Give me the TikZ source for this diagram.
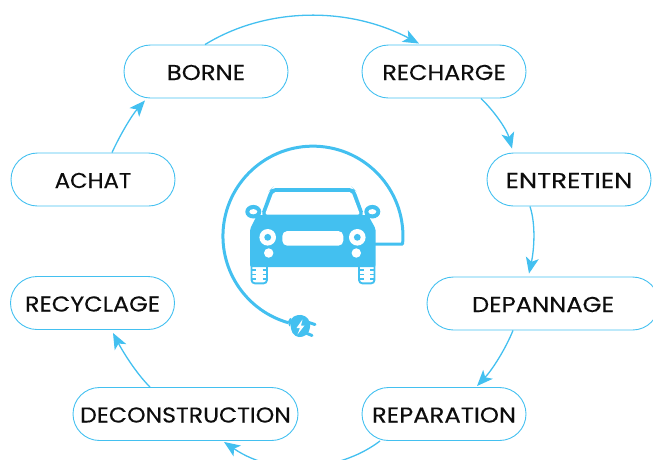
\documentclass[tikz,border=0pt]{standalone}
\usepackage{fontspec}
\setmainfont{Poppins}[FakeStretch=1.13,FakeBold=0.25]
\usetikzlibrary{arrows.meta}
\definecolor{ev}{HTML}{43C0F0}
\tikzset{
  pill/.style={draw=ev,line width=0.9pt,rounded corners=26.5pt,minimum height=53pt,inner sep=0pt,text height=17pt,text depth=0pt,font=\fontsize{21.5}{24}\selectfont,text=black!95},
  link/.style={draw=ev,line width=1.3pt,-{Stealth[length=16pt,width=13pt,inset=4pt]}},
  cable/.style={draw=ev,line width=3pt},
}
\begin{document}
\begin{tikzpicture}[x=1pt,y=-1pt]
\useasboundingbox (0,0) rectangle (653,459);
\node[pill,minimum width=164pt] (borne) at (206,71.5) {BORNE};
\node[pill,minimum width=164pt] (recharge) at (444,71.5) {\scalebox{0.985}[1]{RECHARGE}};
\node[pill,minimum width=164pt] (entretien) at (569,179.5) {\scalebox{1.07}[1]{ENTRETIEN}};
\node[pill,minimum width=232pt] (depannage) at (543,303.5) {DEPANNAGE};
\node[pill,minimum width=164pt] (reparation) at (444,414) {REPARATION};
\node[pill,minimum width=225pt] (deconstruction) at (185.5,414) {\scalebox{0.97}[1]{DECONSTRUCTION}};
\node[pill,minimum width=164pt] (recyclage) at (92.5,303) {\scalebox{0.985}[1]{RECYCLAGE}};
\node[pill,minimum width=164pt] (achat) at (93,179.5) {\scalebox{0.94}[1]{ACHAT}};
% connectors
\draw[link] ([xshift=-1pt]borne.north) .. controls (266,7) and (348,6) .. ([xshift=-25pt,yshift=1pt]recharge.north);
\draw[link] ([xshift=37pt]recharge.south) .. controls (495,112) and (507,130) .. ([xshift=-57pt,yshift=4pt]entretien.north);
\draw[link] ([xshift=-39pt]entretien.south) .. controls (536,225) and (534,250) .. ([xshift=-14pt,yshift=3pt]depannage.north);
\draw[link] ([xshift=-30pt]depannage.south) .. controls (505,350) and (492,370) .. ([xshift=33pt,yshift=1pt]reparation.north);
\draw[link] ([xshift=-64pt]reparation.south) .. controls (345,468) and (280,480) .. ([xshift=38.5pt,yshift=-1pt]deconstruction.south);
\draw[link] ([xshift=-35.5pt]deconstruction.north) .. controls (135,372) and (122,350) .. ([xshift=20.5pt,yshift=-3pt]recyclage.south);
\draw[link] ([xshift=19pt]achat.north) .. controls (120,135) and (132,115) .. ([xshift=-61pt,yshift=-2pt]borne.south);
% cable
\draw[cable,line join=round] (375,244) -- (402.6,244) arc[start angle=-5,end angle=254.4,radius=90pt];
% windscreen frame
\fill[ev,rounded corners=5pt] (260.5,216) -- (270,190) -- (272,188) -- (353,188) -- (355,190) -- (364.5,216) -- cycle;
\fill[white,rounded corners=2pt] (265,214.5) -- (273.5,192) -- (351.5,192) -- (360,214.5) -- cycle;
% mirrors
\fill[ev] (253.3,211.7) ellipse [x radius=8pt,y radius=6.8pt];
\fill[ev] (372.3,211.7) ellipse [x radius=8pt,y radius=6.8pt];
\fill[white] (253.3,211.7) ellipse [x radius=4pt,y radius=2.6pt];
\fill[white] (372.3,211.7) ellipse [x radius=4pt,y radius=2.6pt];
% body
\fill[ev,rounded corners=2pt] (257,215) -- (368,215) -- (375.7,229) -- (375.7,267) -- (250,267) -- (250,229) -- cycle;
\fill[white] (267.7,237.3) circle[radius=8.3pt];
\fill[white] (357.3,237.3) circle[radius=8.3pt];
\fill[ev] (267.7,237.3) circle[radius=3.4pt];
\fill[ev] (357.3,237.3) circle[radius=3.4pt];
\fill[white] (268.7,253) circle[radius=4.7pt];
\fill[white] (356.3,253) circle[radius=4.7pt];
\fill[white,rounded corners=5pt] (282.3,231) rectangle (343.3,245.7);
% wheels
\foreach \wx in {251.5,359}{
  \draw[ev,line width=1.9pt,rounded corners=3.5pt] (\wx,266) -- (\wx,283.4) -- (\wx+15.5,283.4) -- (\wx+15.5,266);
  \foreach \wy in {270,274.5,279}{
    \draw[ev,line width=1.4pt] (\wx,\wy) -- (\wx+4.5,\wy);
    \draw[ev,line width=1.4pt] (\wx+11,\wy) -- (\wx+15.5,\wy);
  }
}
% plug
\fill[ev,rounded corners=2pt] (288,319) -- (292,317.5) -- (291,325) -- (289,327) -- cycle;
\fill[ev,rounded corners=4pt] (290.5,318.5) -- (297,314.5) -- (305.5,315.5) -- (310.5,322) -- (309.5,332) -- (303,337.5) -- (294.5,336.5) -- (290.5,329) -- cycle;
\draw[ev,line width=3pt,line cap=round] (309,322.5) -- (315,324.5);
\draw[ev,line width=3pt,line cap=round] (306,333) -- (312,335.5);
\fill[white] (302.5,319.5) -- (296.5,328) -- (300,328) -- (297.5,334.5) -- (304.5,325.5) -- (301,325.5) -- cycle;
\end{tikzpicture}
\end{document}
